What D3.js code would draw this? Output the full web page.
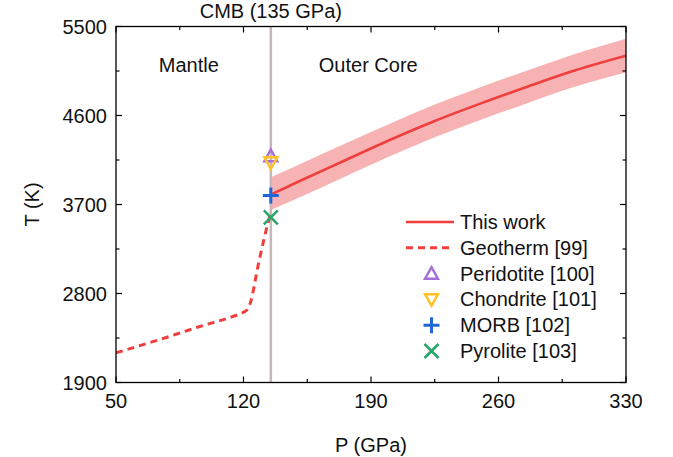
<!DOCTYPE html>
<html lang="en">
<head>
<meta charset="utf-8">
<script src="https://d3js.org/d3.v7.min.js"></script>
<style>
    body { margin: 0; background: #fff; }
    text { font-family: "Liberation Sans", Arial, sans-serif; fill: #111; }
</style>
</head>
<body>
<div id="container"></div>
<script>
// this work: melting curve + uncertainty band
var workP = [135, 150, 175, 200, 225, 250, 275, 300, 330];
var workT = [3800, 3930, 4140, 4350, 4545, 4720, 4885, 5045, 5205];
var workUpper = [3975, 4100, 4310, 4515, 4710, 4885, 5050, 5210, 5375];
var workLower = [3645, 3765, 3975, 4185, 4380, 4555, 4720, 4880, 5035];

// geotherm [99]
var geoP = [50, 78, 96, 114, 120, 122.5, 124, 128, 131, 133.5, 135];
var geoT = [2200, 2358, 2466, 2567, 2610, 2645, 2720, 3080, 3330, 3520, 3620];

// CMB estimates
var refNames = ["Peridotite [100]", "Chondrite [101]", "MORB [102]", "Pyrolite [103]"];
var refP = [135, 135, 135, 135];
var refT = [4190, 4125, 3790, 3570];
var refColors = ["#a66fd8", "#ffc125", "#2166d9", "#2ba66a"];
var refShapes = ["up", "down", "plus", "cross"];

var xTicks = [50, 120, 190, 260, 330];
var yTicks = [1900, 2800, 3700, 4600, 5500];
var cmbP = 135;

var red = "#f03e3e";

var margin = {top: 26.5, right: 47, bottom: 74.5, left: 116},
    width = 673 - margin.left - margin.right,
    height = 457 - margin.top - margin.bottom;

var svg = d3.select("#container")
    .append("svg")
    .attr("width", 673)
    .attr("height", 457)
    .append("g")
    .attr("transform", "translate(" + margin.left + "," + margin.top + ")");

var x = d3.scaleLinear().domain([50, 330]).range([0, width]);
var y = d3.scaleLinear().domain([1900, 5500]).range([height, 0]);

var defs = svg.append("defs");
defs.append("clipPath").attr("id", "clip")
    .append("rect").attr("width", width).attr("height", height);

var plot = svg.append("g").attr("clip-path", "url(#clip)");

// uncertainty band
var band = workP.map(function(p, i) { return {p: p, hi: workUpper[i], lo: workLower[i]}; });
plot.append("path")
    .datum(band)
    .attr("fill", "#f7b3b3")
    .attr("d", d3.area()
        .curve(d3.curveMonotoneX)
        .x(function(d) { return x(d.p); })
        .y0(function(d) { return y(d.lo); })
        .y1(function(d) { return y(d.hi); }));

// CMB line
plot.append("line")
    .attr("x1", x(cmbP)).attr("x2", x(cmbP))
    .attr("y1", 0).attr("y2", height)
    .attr("stroke", "#c9b6b6")
    .attr("stroke-width", 2.5);

var work = workP.map(function(p, i) { return [p, workT[i]]; });
plot.append("path")
    .datum(work)
    .attr("fill", "none")
    .attr("stroke", red)
    .attr("stroke-width", 2.6)
    .attr("d", d3.line().curve(d3.curveMonotoneX)
        .x(function(d) { return x(d[0]); })
        .y(function(d) { return y(d[1]); }));

var geo = geoP.map(function(p, i) { return [p, geoT[i]]; });
plot.append("path")
    .datum(geo)
    .attr("fill", "none")
    .attr("stroke", red)
    .attr("stroke-width", 3)
    .attr("stroke-dasharray", "7,5")
    .attr("d", d3.line().curve(d3.curveMonotoneX)
        .x(function(d) { return x(d[0]); })
        .y(function(d) { return y(d[1]); }));

function drawMarker(g, shape, color, cx, cy) {
    var s = 6.5;
    if (shape == "up") {
        g.append("path")
            .attr("d", "M" + cx + "," + (cy - s) + "L" + (cx + s) + "," + (cy + s * 0.8) + "L" + (cx - s) + "," + (cy + s * 0.8) + "Z")
            .attr("fill", "none").attr("stroke", color).attr("stroke-width", 2.4);
    } else if (shape == "down") {
        g.append("path")
            .attr("d", "M" + cx + "," + (cy + s) + "L" + (cx + s) + "," + (cy - s * 0.8) + "L" + (cx - s) + "," + (cy - s * 0.8) + "Z")
            .attr("fill", "none").attr("stroke", color).attr("stroke-width", 2.4);
    } else if (shape == "plus") {
        g.append("path")
            .attr("d", "M" + (cx - 8) + "," + cy + "H" + (cx + 8) + "M" + cx + "," + (cy - 8) + "V" + (cy + 8))
            .attr("stroke", color).attr("stroke-width", 3);
    } else {
        g.append("path")
            .attr("d", "M" + (cx - 7) + "," + (cy - 7) + "L" + (cx + 7) + "," + (cy + 7) + "M" + (cx + 7) + "," + (cy - 7) + "L" + (cx - 7) + "," + (cy + 7))
            .attr("stroke", color).attr("stroke-width", 2.6);
    }
}

var marks = svg.append("g");
refNames.forEach(function(n, i) {
    drawMarker(marks, refShapes[i], refColors[i], x(refP[i]), y(refT[i]));
});

// axes with inward ticks on all four sides
var minorX = d3.range(85, 330, 70);
var minorY = d3.range(2350, 5500, 900);

function tickLines(g, vals, len, side) {
    vals.forEach(function(v) {
        var l = g.append("line").attr("stroke", "#000").attr("stroke-width", 1.2);
        if (side == "bottom") l.attr("x1", x(v)).attr("x2", x(v)).attr("y1", height).attr("y2", height - len);
        if (side == "top") l.attr("x1", x(v)).attr("x2", x(v)).attr("y1", 0).attr("y2", len);
        if (side == "left") l.attr("y1", y(v)).attr("y2", y(v)).attr("x1", 0).attr("x2", len);
        if (side == "right") l.attr("y1", y(v)).attr("y2", y(v)).attr("x1", width).attr("x2", width - len);
    });
}
var ax = svg.append("g");
ax.append("rect").attr("width", width).attr("height", height)
    .attr("fill", "none").attr("stroke", "#000").attr("stroke-width", 1.3);
["bottom", "top"].forEach(function(s) { tickLines(ax, xTicks, 6, s); tickLines(ax, minorX, 3.5, s); });
["left", "right"].forEach(function(s) { tickLines(ax, yTicks, 6, s); tickLines(ax, minorY, 3.5, s); });

ax.selectAll(".xl").data(xTicks).enter().append("text")
    .attr("x", function(d) { return x(d); })
    .attr("y", height + 25)
    .attr("text-anchor", "middle")
    .style("font-size", "20px")
    .text(function(d) { return d; });

ax.selectAll(".yl").data(yTicks).enter().append("text")
    .attr("x", -9)
    .attr("y", function(d) { return y(d); })
    .attr("dy", "0.35em")
    .attr("text-anchor", "end")
    .style("font-size", "20px")
    .text(function(d) { return d; });

svg.append("text")
    .attr("x", width / 2).attr("y", height + 69)
    .attr("text-anchor", "middle").style("font-size", "20px")
    .text("P (GPa)");

svg.append("text")
    .attr("transform", "translate(-84," + (height / 2) + ") rotate(-90)")
    .attr("text-anchor", "middle").attr("dy", "0.35em").style("font-size", "20px")
    .text("T (K)");

svg.append("text")
    .attr("x", x(cmbP)).attr("y", -9)
    .attr("text-anchor", "middle").style("font-size", "20px")
    .text("CMB (135 GPa)");

svg.append("text")
    .attr("x", x(90)).attr("y", 45)
    .attr("text-anchor", "middle").style("font-size", "20px")
    .text("Mantle");

svg.append("text")
    .attr("x", x(188.5)).attr("y", 45)
    .attr("text-anchor", "middle").style("font-size", "20px")
    .text("Outer Core");

// legend
var legX = 290, legY = 195.5, legStep = 25.8;
var leg = svg.append("g");
var legLabels = ["This work", "Geotherm [99]"].concat(refNames);
legLabels.forEach(function(t, i) {
    var yy = legY + i * legStep;
    if (i < 2) {
        leg.append("line")
            .attr("x1", legX).attr("x2", legX + 48)
            .attr("y1", yy).attr("y2", yy)
            .attr("stroke", red).attr("stroke-width", i == 1 ? 3 : 2.6)
            .attr("stroke-dasharray", i == 1 ? "7,5" : null);
    } else {
        drawMarker(leg, refShapes[i - 2], refColors[i - 2], legX + 25.5, yy);
    }
    leg.append("text")
        .attr("x", legX + 54).attr("y", yy).attr("dy", "0.35em")
        .style("font-size", "20px")
        .text(t);
});
</script>
</body>
</html>
